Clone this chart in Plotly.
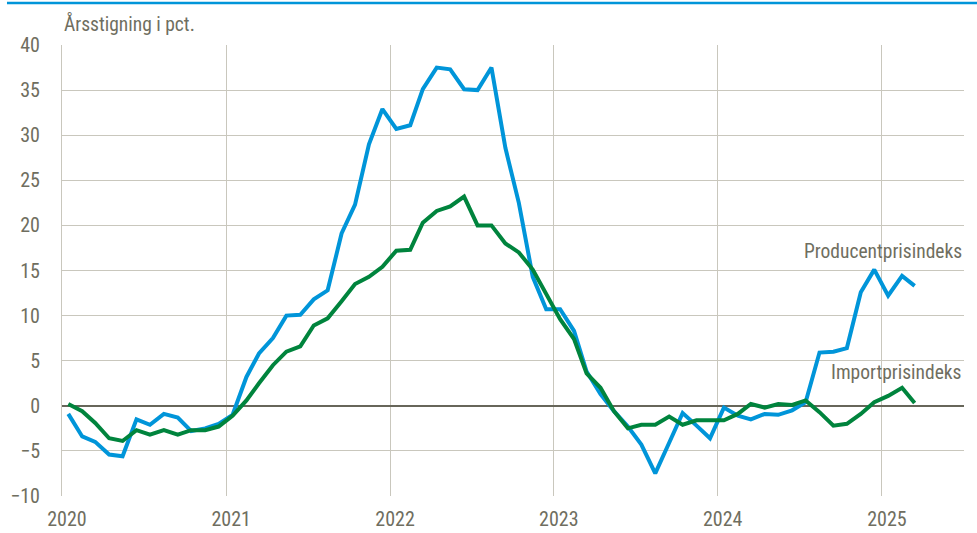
import pandas as pd
import plotly.graph_objects as go

# Monthly data, Jan 2020 - Mar 2025 (year-on-year change, pct.)
months = pd.date_range("2020-01-01", periods=63, freq="MS") + pd.Timedelta(days=14)

producent = [
    -0.9, -3.4, -4.0, -5.4, -5.6, -1.5, -2.1, -0.9, -1.3, -2.8, -2.5, -2.0,
    -1.0, 3.2, 5.8, 7.5, 10.0, 10.1, 11.8, 12.8, 19.1, 22.3, 29.0, 32.9,
    30.7, 31.1, 35.1, 37.5, 37.3, 35.1, 35.0, 37.5, 28.6, 22.5, 14.3, 10.7,
    10.7, 8.3, 3.8, 1.3, -0.6, -2.3, -4.3, -7.5, -4.1, -0.8, -2.2, -3.6,
    -0.2, -1.1, -1.5, -0.9, -1.0, -0.5, 0.4, 5.9, 6.0, 6.4, 12.6, 15.1,
    12.2, 14.4, 13.3,
]
import_ = [
    0.2, -0.6, -1.9, -3.6, -3.9, -2.7, -3.2, -2.7, -3.2, -2.7, -2.7, -2.3,
    -1.1, 0.6, 2.5, 4.5, 6.0, 6.6, 8.9, 9.7, 11.6, 13.5, 14.3, 15.4,
    17.2, 17.3, 20.3, 21.6, 22.1, 23.2, 20.0, 20.0, 18.0, 17.0, 15.1, 12.4,
    9.6, 7.4, 3.6, 2.0, -0.6, -2.5, -2.1, -2.1, -1.2, -2.1, -1.6, -1.6,
    -1.6, -0.9, 0.2, -0.2, 0.2, 0.1, 0.6, -0.7, -2.2, -2.0, -0.9, 0.4,
    1.1, 2.0, 0.3,
]

year_ticks = ["2020-01-01", "2021-01-01", "2022-01-01", "2023-01-01", "2024-01-01", "2025-01-01"]
year_labels = ["2020", "2021", "2022", "2023", "2024", "2025"]
y_ticks = [-10, -5, 0, 5, 10, 15, 20, 25, 30, 35, 40]

BLUE = "#0095d9"
GREEN = "#00843d"
TEXT = "#6f6e60"
GRID = "#c9c7bd"
FONT = "Roboto Condensed, Arial Narrow, Liberation Sans, sans-serif"
FS = 20

fig = go.Figure()
fig.add_trace(go.Scatter(x=months, y=producent, mode="lines", name="Producentprisindeks",
                         line=dict(color=BLUE, width=4), showlegend=False))
fig.add_trace(go.Scatter(x=months, y=import_, mode="lines", name="Importprisindeks",
                         line=dict(color=GREEN, width=4), showlegend=False))

fig.update_layout(
    width=977, height=533,
    margin=dict(l=62, r=13, t=45, b=37),
    paper_bgcolor="white", plot_bgcolor="white",
    font=dict(family=FONT, size=FS, color=TEXT),
    xaxis=dict(
        type="date", range=["2020-01-01", "2025-07-03"],
        tickvals=year_ticks, ticktext=year_labels,
        showgrid=True, gridcolor=GRID, gridwidth=1,
        ticks="", zeroline=False, showline=False,
        ticklabelshift=5, ticklabelstandoff=9,
        automargin=False,
        tickfont=dict(family=FONT, size=FS, color=TEXT),
    ),
    yaxis=dict(
        range=[-10, 40], tickvals=y_ticks,
        showgrid=True, gridcolor=GRID, gridwidth=1,
        zeroline=True, zerolinecolor="#67665a", zerolinewidth=1.5,
        showline=True, linecolor=GRID, linewidth=1,
        ticks="", ticklabelstandoff=17,
        automargin=False,
        tickfont=dict(family=FONT, size=FS, color=TEXT),
    ),
    shapes=[dict(type="line", xref="paper", yref="paper",
                 x0=-0.061, x1=1.02, y0=1.093, y1=1.093,
                 line=dict(color=BLUE, width=2.5))],
    annotations=[
        dict(text="Årsstigning i pct.", xref="paper", yref="paper", x=0, y=1,
             xanchor="left", yanchor="bottom", yshift=7, showarrow=False,
             font=dict(family=FONT, size=19.5, color=TEXT)),
        dict(text="Producentprisindeks", xref="paper", yref="y", x=1, y=17.1,
             xanchor="right", yanchor="middle", showarrow=False,
             font=dict(family=FONT, size=19.5, color=TEXT)),
        dict(text="Importprisindeks", xref="paper", yref="y", x=1, y=3.7,
             xanchor="right", yanchor="middle", showarrow=False,
             font=dict(family=FONT, size=19.5, color=TEXT)),
    ],
)

fig.write_html("out.html", config={"displayModeBar": False},
               post_script="document.body.style.margin='0';")
